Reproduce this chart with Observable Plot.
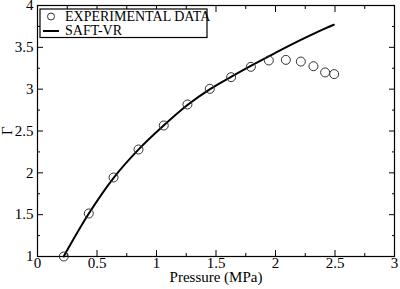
<!DOCTYPE html>
<html><head><meta charset="utf-8">
<script src="https://cdn.jsdelivr.net/npm/d3@7"></script>
<script src="https://cdn.jsdelivr.net/npm/@observablehq/plot@0.6"></script>
<style>body{margin:0;background:#fff} svg text{font-family:"Liberation Serif","DejaVu Serif",serif !important}</style>
</head><body><div id="chart"></div>
<script>
const expPressure = [0.221, 0.431, 0.639, 0.849, 1.061, 1.26, 1.448, 1.627, 1.793, 1.944, 2.087, 2.213, 2.319, 2.417, 2.493];
const expGamma    = [1.0, 1.514, 1.944, 2.279, 2.566, 2.817, 3.004, 3.143, 3.267, 3.343, 3.35, 3.33, 3.274, 3.2, 3.18];
const saftPressure = [0.22, 0.43, 0.64, 0.85, 1.06, 1.26, 1.45, 1.63, 1.8, 2.0, 2.2, 2.4, 2.49];
const saftGamma    = [1.0, 1.51, 1.94, 2.28, 2.565, 2.81, 3.0, 3.15, 3.285, 3.435, 3.58, 3.715, 3.77];
const xMajor = [0, 0.5, 1, 1.5, 2, 2.5, 3];
const xMinor = [0.25, 0.75, 1.25, 1.75, 2.25, 2.75];
const yMajor = [1, 1.5, 2, 2.5, 3, 3.5, 4];
const yMinor = [1.25, 1.75, 2.25, 2.75, 3.25, 3.75];
const legendLabels = ["EXPERIMENTAL DATA", "SAFT-VR"];

const exp = expPressure.map((p, i) => ({p, g: expGamma[i]}));
const saft = saftPressure.map((p, i) => ({p, g: saftGamma[i]}));
const serif = "'Liberation Serif', 'DejaVu Serif', serif";

const plot = Plot.plot({
  width: 400, height: 289,
  marginLeft: 37, marginRight: 6, marginTop: 5, marginBottom: 33,
  style: {fontFamily: serif, fontSize: "14px", color: "#000", background: "#fff"},
  x: {domain: [0, 3]},
  y: {domain: [1, 4]},
  marks: [
    Plot.axisX({ticks: xMajor, tickSize: 0, tickPadding: 1, tickFormat: d => String(d), label: null, fontSize: 15}),
    Plot.axisY({ticks: yMajor, tickSize: 0, tickPadding: 4, tickFormat: d => String(d), label: null, fontSize: 15}),
    Plot.axisX({anchor: "bottom", ticks: xMajor, tickSize: -6, text: null, label: null}),
    Plot.axisX({anchor: "bottom", ticks: xMinor, tickSize: -3, text: null, label: null}),
    Plot.axisX({anchor: "top", ticks: xMajor, tickSize: -6, text: null, label: null}),
    Plot.axisX({anchor: "top", ticks: xMinor, tickSize: -3, text: null, label: null}),
    Plot.axisY({anchor: "left", ticks: yMajor, tickSize: -6, text: null, label: null}),
    Plot.axisY({anchor: "left", ticks: yMinor, tickSize: -3, text: null, label: null}),
    Plot.axisY({anchor: "right", ticks: yMajor, tickSize: -6, text: null, label: null}),
    Plot.axisY({anchor: "right", ticks: yMinor, tickSize: -3, text: null, label: null}),
    Plot.frame({stroke: "#000", strokeWidth: 1.2}),
    Plot.line(saft, {x: "p", y: "g", stroke: "#000", strokeWidth: 2, curve: "catmull-rom"}),
    Plot.dot(exp, {x: "p", y: "g", r: 4.5, stroke: "#333", strokeWidth: 1, fill: "none"}),
    Plot.text(["Pressure (MPa)"], {frameAnchor: "bottom", lineAnchor: "middle", dy: 21, fontSize: 15, fill: "#000"}),
    Plot.text(["Γ"], {frameAnchor: "left", dx: -30, dy: 4, rotate: -90, fontSize: 15, fill: "#000"})
  ]
});
document.getElementById("chart").append(plot);

const svg = d3.select(plot);
const g = svg.append("g").attr("font-family", serif).attr("font-size", 14).attr("text-anchor", "start");
g.append("rect").attr("x", 40).attr("y", 9).attr("width", 167).attr("height", 28.5)
  .attr("fill", "#fff").attr("stroke", "#000").attr("stroke-width", 1.2);
g.append("circle").attr("cx", 51).attr("cy", 16.5).attr("r", 3.5).attr("fill", "none").attr("stroke", "#333");
g.append("line").attr("x1", 43).attr("x2", 59).attr("y1", 31).attr("y2", 31).attr("stroke", "#000").attr("stroke-width", 2);
g.append("text").attr("x", 65).attr("y", 20.5).attr("text-anchor", "start").text(legendLabels[0]);
g.append("text").attr("x", 65).attr("y", 35).attr("text-anchor", "start").text(legendLabels[1]);
</script></body></html>
